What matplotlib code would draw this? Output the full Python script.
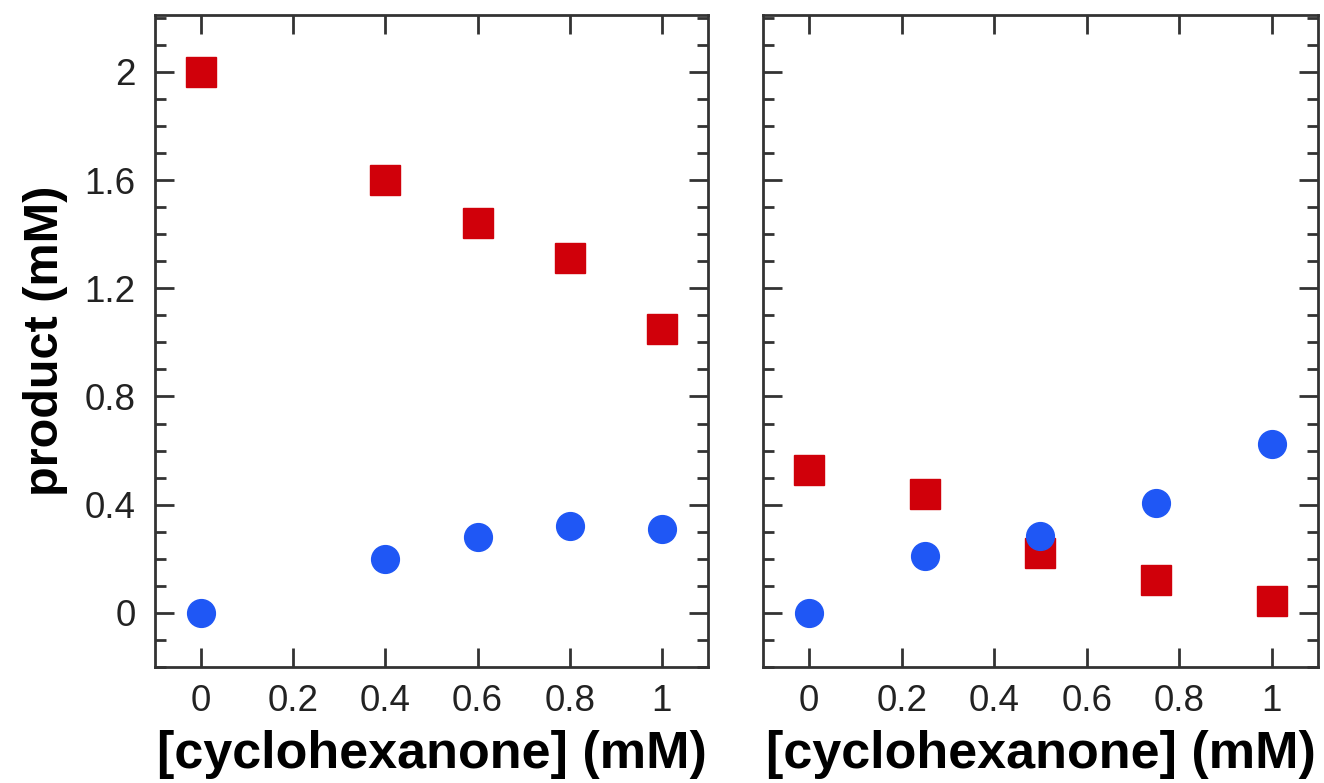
import matplotlib
matplotlib.use("Agg")
import matplotlib.pyplot as plt
from matplotlib.ticker import MultipleLocator, FixedLocator

plt.rcParams['font.family'] = ['Liberation Sans', 'DejaVu Sans']

# left panel
x_left = [0, 0.4, 0.6, 0.8, 1.0]
sq_left = [2.0, 1.60, 1.44, 1.31, 1.05]
circ_left = [0.0, 0.20, 0.28, 0.32, 0.31]

# right panel
x_right = [0, 0.25, 0.5, 0.75, 1.0]
sq_right = [0.53, 0.44, 0.22, 0.12, 0.045]
circ_right = [0.0, 0.21, 0.285, 0.405, 0.625]

xticks = [0, 0.2, 0.4, 0.6, 0.8, 1]
xticklabels = ['0', '0.2', '0.4', '0.6', '0.8', '1']
yticks = [0, 0.4, 0.8, 1.2, 1.6, 2]
yticklabels = ['0', '0.4', '0.8', '1.2', '1.6', '2']

red = '#d0000a'
blue = '#1f57f5'
spine_col = '#333333'

fig = plt.figure(figsize=(13.24, 7.83), dpi=100)
ax1 = fig.add_axes([155/1324, 116/783, 553/1324, 652/783])
ax2 = fig.add_axes([763/1324, 116/783, 555/1324, 652/783])

for ax, xs, sq, ci in [(ax1, x_left, sq_left, circ_left), (ax2, x_right, sq_right, circ_right)]:
    ax.plot(xs, sq, linestyle='none', marker='s', markersize=21.5, color=red, zorder=3)
    ax.plot(xs, ci, linestyle='none', marker='o', markersize=20, color=blue, zorder=4)
    ax.set_xlim(-0.1, 1.1)
    ax.set_ylim(-0.2, 2.21)
    ax.xaxis.set_major_locator(FixedLocator(xticks))
    ax.set_xticklabels(xticklabels)
    ax.yaxis.set_major_locator(FixedLocator(yticks))
    ax.yaxis.set_minor_locator(MultipleLocator(0.1))
    ax.tick_params(which='both', direction='in', top=True, right=True, color=spine_col)
    ax.tick_params(which='major', length=14, width=2, labelsize=26.5, labelcolor='#222222')
    ax.tick_params(axis='x', which='major', pad=12)
    ax.tick_params(axis='y', which='major', pad=14)
    ax.tick_params(which='minor', length=8, width=2)
    for s in ax.spines.values():
        s.set_linewidth(2)
        s.set_color(spine_col)
    ax.set_xlabel('[cyclohexanone] (mM)', fontsize=37.5, fontweight='bold', labelpad=8)

ax1.set_yticklabels(yticklabels)
ax2.set_yticklabels([])
ax1.set_ylabel('product (mM)', fontsize=35, fontweight='bold', labelpad=12)

fig.savefig('out.png', dpi=100)
